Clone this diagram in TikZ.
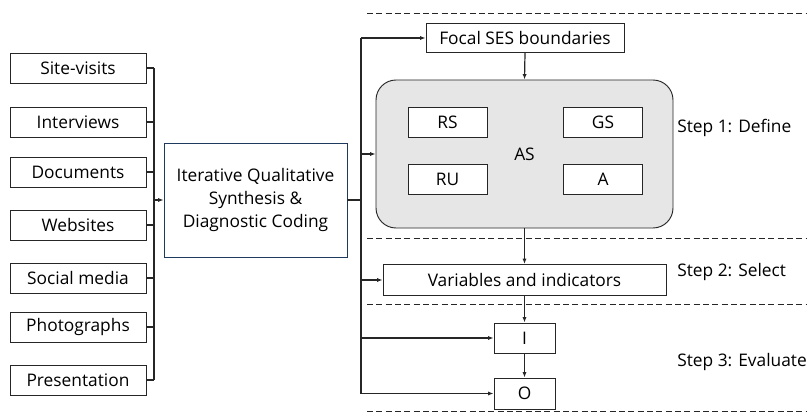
\documentclass[tikz,border=0pt]{standalone}
\usepackage{fontspec}
\setmainfont{Open Sans}
\usetikzlibrary{arrows.meta}
\definecolor{linegray}{HTML}{262626}
\definecolor{corenavy}{HTML}{1F3A5F}
\definecolor{asgray}{HTML}{E6E6E6}
\tikzset{
  box/.style={draw=linegray, line width=0.7pt, fill=white, inner sep=0pt, font=\fontsize{13}{17}\selectfont},
  srcbox/.style={box, minimum width=102pt, minimum height=22.5pt},
  varbox/.style={box, minimum width=59.25pt, minimum height=22.5pt},
  wire/.style={draw=linegray, line width=0.9pt},
  feed/.style={wire, -{Latex[length=4pt,width=3pt]}},
  sep/.style={draw=linegray, line width=0.7pt, dash pattern=on 4.5pt off 2.5pt},
  steplbl/.style={anchor=west, inner sep=0pt, font=\fontsize{13}{17}\selectfont}
}
\newcommand{\source}[3]{\node[srcbox] (#1) at (78, #2) {#3};}
\begin{document}
\begin{tikzpicture}[x=0.75pt, y=-0.75pt]
        \useasboundingbox (0,0) rectangle (809,420);

        % data sources
        \source{s1}{68}{Site-visits}
        \source{s2}{122}{Interviews}
        \source{s3}{172}{Documents}
        \source{s4}{225}{Websites}
        \source{s5}{278}{Social media}
        \source{s6}{327}{Photographs}
        \source{s7}{380}{Presentation}

        % coding
        \node[box, draw=corenavy, minimum width=137.25pt, minimum height=85.5pt, align=center]
            (core) at (255.5, 200) {Iterative Qualitative\\Synthesis \&\\Diagnostic Coding};

        \coordinate (lbus) at (154, 200);
        \coordinate (rbus) at (361, 200);

        \foreach \s in {s1,s2,s3,s4,s5,s6,s7}
            \draw[wire] (\s.east) -- (\s.east -| lbus);
        \draw[wire] (s1.east -| lbus) -- (s7.east -| lbus);
        \draw[feed] (lbus) -- (core.west);

        % step 1
        \node[box, minimum width=148.5pt, minimum height=21.75pt] (focal) at (525, 38) {Focal SES boundaries};
        \node[box, fill=asgray, rounded corners=15pt, minimum width=222.75pt, minimum height=111pt]
            (as) at (524.5, 154) {AS};
        \node[varbox] (rs) at (447.5, 122) {RS};
        \node[varbox] (gs) at (603, 122) {GS};
        \node[varbox] (ru) at (447.5, 179.5) {RU};
        \node[varbox] (a) at (603, 179.5) {A};

        % step 2
        \node[box, minimum width=212.25pt, minimum height=23.25pt] (vars) at (524.5, 280) {Variables and indicators};

        % step 3
        \node[box, minimum width=45.75pt, minimum height=22.5pt] (i) at (524.5, 338) {I};
        \node[box, minimum width=45.75pt, minimum height=23.25pt] (o) at (524.5, 393.5) {O};

        \draw[wire] (core.east) -- (rbus);
        \draw[wire] (rbus |- focal) -- (rbus |- o);
        \draw[feed] (rbus |- focal) -- (focal.west);
        \draw[feed] (rbus |- as) -- (as.west);
        \draw[feed] (rbus |- vars) -- (vars.west);
        \draw[feed] (rbus |- i) -- (i.west);
        \draw[feed] (rbus |- o) -- (o.west);

        \draw[feed] (focal.south) -- (as.north);
        \draw[feed] (as.south) -- (vars.north);
        \draw[feed] (vars.south) -- (i.north);
        \draw[feed] (i.south) -- (o.north);

        % separators
        \draw[sep] (367, 13) -- (806, 13);
        \draw[sep] (367, 238) -- (806, 238);
        \draw[sep] (367, 304) -- (806, 304);
        \draw[sep] (367, 411) -- (806, 411);

        \node[steplbl] (st1) at (677, 128) {Step 1: Define};
        \node[steplbl] (st2) at (677, 272) {Step 2: Select};
        \node[steplbl] (st3) at (677, 362) {Step 3: Evaluate};

\end{tikzpicture}
\end{document}
